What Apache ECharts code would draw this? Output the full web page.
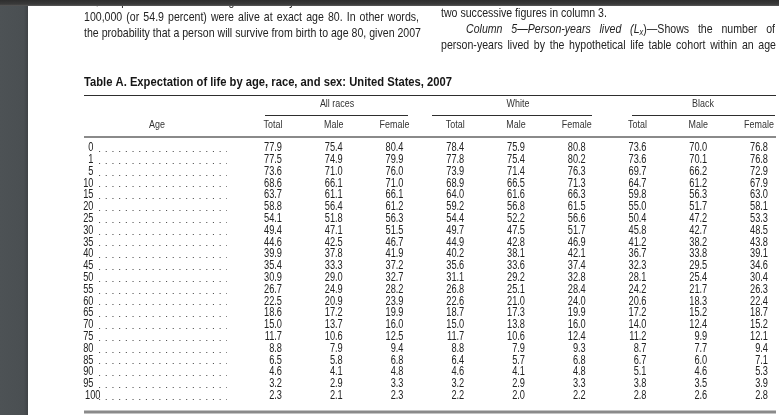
<!DOCTYPE html>
<html>
<head>
<meta charset="utf-8">
<script src="https://cdn.jsdelivr.net/npm/echarts@6/dist/echarts.min.js"></script>
<style>
html,body{margin:0;padding:0;background:#fff;}
#chart{width:779px;height:415px;}
</style>
</head>
<body>
<div id="chart"></div>
<script>
// ---------- data ----------
const ages = ['0','1','5','10','15','20','25','30','35','40','45','50','55','60','65','70','75','80','85','90','95','100'];
const columnLabels = ['Total','Male','Female','Total','Male','Female','Total','Male','Female'];
const groupLabels = ['All races','White','Black'];

const allTotal   = [77.9,77.5,73.6,68.6,63.7,58.8,54.1,49.4,44.6,39.9,35.4,30.9,26.7,22.5,18.6,15.0,11.7,8.8,6.5,4.6,3.2,2.3];
const allMale    = [75.4,74.9,71.0,66.1,61.1,56.4,51.8,47.1,42.5,37.8,33.3,29.0,24.9,20.9,17.2,13.7,10.6,7.9,5.8,4.1,2.9,2.1];
const allFemale  = [80.4,79.9,76.0,71.0,66.1,61.2,56.3,51.5,46.7,41.9,37.2,32.7,28.2,23.9,19.9,16.0,12.5,9.4,6.8,4.8,3.3,2.3];
const whiteTotal = [78.4,77.8,73.9,68.9,64.0,59.2,54.4,49.7,44.9,40.2,35.6,31.1,26.8,22.6,18.7,15.0,11.7,8.8,6.4,4.6,3.2,2.2];
const whiteMale  = [75.9,75.4,71.4,66.5,61.6,56.8,52.2,47.5,42.8,38.1,33.6,29.2,25.1,21.0,17.3,13.8,10.6,7.9,5.7,4.1,2.9,2.0];
const whiteFemale= [80.8,80.2,76.3,71.3,66.3,61.5,56.6,51.7,46.9,42.1,37.4,32.8,28.4,24.0,19.9,16.0,12.4,9.3,6.8,4.8,3.3,2.2];
const blackTotal = [73.6,73.6,69.7,64.7,59.8,55.0,50.4,45.8,41.2,36.7,32.3,28.1,24.2,20.6,17.2,14.0,11.2,8.7,6.7,5.1,3.8,2.8];
const blackMale  = [70.0,70.1,66.2,61.2,56.3,51.7,47.2,42.7,38.2,33.8,29.5,25.4,21.7,18.3,15.2,12.4,9.9,7.7,6.0,4.6,3.5,2.6];
const blackFemale= [76.8,76.8,72.9,67.9,63.0,58.1,53.3,48.5,43.8,39.1,34.6,30.4,26.3,22.4,18.7,15.2,12.1,9.4,7.1,5.3,3.9,2.8];

const columnsData = [allTotal, allMale, allFemale, whiteTotal, whiteMale, whiteFemale, blackTotal, blackMale, blackFemale];

const titleText = 'Table A. Expectation of life by age, race, and sex: United States, 2007';

// ---------- chart ----------
const FF = "'Liberation Sans',Arial,Helvetica,sans-serif";
const SX = 0.77;            // horizontal condensing to mimic Helvetica Condensed
const NUM_SIZE = 12;
const NUM_COLOR = '#222222';
const chart = echarts.init(document.getElementById('chart'), null, {renderer:'canvas'});

const series = columnsData.map((vals, c) => ({
  type: 'custom',
  name: 'c' + c,
  silent: true,
  data: vals.map((v, r) => [c, r, v]),
  encode: {x: 0, y: 1},
  renderItem: function (params, api) {
    const p = api.coord([api.value(0), api.value(1)]);
    return {
      type: 'text',
      x: p[0] + 9,
      y: p[1],
      scaleX: SX,
      style: {
        text: api.value(2).toFixed(1),
        fontFamily: FF, fontSize: NUM_SIZE,
        fill: NUM_COLOR, align: 'right', verticalAlign: 'middle'
      }
    };
  }
}));

chart.setOption({
  animation: false,
  backgroundColor: '#ffffff',
  grid: {left: 273, right: 20, top: 142, height: 22 * 11.8, containLabel: false},
  xAxis: {
    type: 'category',
    position: 'top',
    boundaryGap: false,
    data: columnLabels.map((l, i) => 'c' + i),
    axisLine: {show: false},
    axisTick: {show: false},
    splitLine: {show: false},
    axisLabel: {show: false}
  },
  yAxis: {
    type: 'category',
    inverse: true,
    boundaryGap: true,
    data: ages,
    axisLine: {show: false},
    axisTick: {show: false},
    splitLine: {show: false},
    axisLabel: {show: false}
  },
  series: series
});

// ---------- decorations / text ----------
const ctx = document.createElement('canvas').getContext('2d');
function fontStr(s) {
  return (s.italic ? 'italic ' : '') + (s.bold ? 'bold ' : '') + s.size + 'px ' + FF;
}
function measure(t, s) { ctx.font = fontStr(s); return ctx.measureText(t).width * (s.sx || 1); }

const BODY = {size: 11.9, color: '#232323', sx: 0.89};
const graphics = [];

function textEl(t, x, y, s, align) {
  return {
    type: 'text', x: x, y: y, z: 5, silent: true, scaleX: s.sx || 1,
    style: {
      text: t, fontFamily: FF, fontSize: s.size,
      fontStyle: s.italic ? 'italic' : 'normal',
      fontWeight: s.bold ? 'bold' : 'normal',
      fill: s.color || '#232323', align: align || 'left', verticalAlign: 'middle'
    }
  };
}

// words: array of word; word = string or array of segments {t, italic, sub}
function lineOut(words, x0, x1, y, justify) {
  const norm = words.map(w => typeof w === 'string' ? [{t: w}] : w);
  const segStyle = seg => Object.assign({}, BODY, {italic: !!seg.italic, size: seg.sub ? BODY.size * 0.7 : BODY.size});
  const widths = norm.map(w => w.reduce((a, seg) => a + measure(seg.t, segStyle(seg)), 0));
  const total = widths.reduce((a, b) => a + b, 0);
  const gap = justify && norm.length > 1 ? (x1 - x0 - total) / (norm.length - 1) : measure(' ', BODY);
  let x = x0;
  norm.forEach((w, i) => {
    let xx = x;
    w.forEach(seg => {
      const st = segStyle(seg);
      graphics.push(textEl(seg.t, xx, seg.sub ? y + 3 : y, st));
      xx += measure(seg.t, st);
    });
    x += widths[i] + gap;
  });
}
const split = s => s.split(' ');

// left column paragraph
lineOut(split('54,916 persons out of the original 2007 synthetic life table cohort of'), 84, 420, 2, true);
lineOut(split('100,000 (or 54.9 percent) were alive at exact age 80. In other words,'), 84, 419, 17.5, true);
lineOut(split('the probability that a person will survive from birth to age 80, given 2007'), 84, 421, 33.5, true);
// right column paragraph
lineOut(split('interval x to x+n. It is obtained by taking the difference between'), 441, 775, -2, true);
lineOut(split('two successive figures in column 3.'), 441, 775, 14, false);
lineOut([
  [{t: 'Column', italic: true}],
  [{t: '5—Person-years', italic: true}],
  [{t: 'lived', italic: true}],
  [{t: '(L', italic: true}, {t: 'x', italic: true, sub: true}, {t: ')'}, {t: '—Shows'}],
  'the', 'number', 'of'
], 466, 775, 30, true);
lineOut(split('person-years lived by the hypothetical life table cohort within an age'), 441, 776, 46, true);

// title (condensed bold)
(function () {
  const st = {size: 13.6, bold: true, color: '#161616'};
  const w = measure(titleText, st);
  st.sx = 368 / w;
  graphics.push(textEl(titleText, 84, 82, st));
})();

// rules
function hline(x1, x2, y, w, color) {
  graphics.push({type: 'line', z: 4, silent: true, shape: {x1: x1, y1: y, x2: x2, y2: y}, style: {stroke: color, lineWidth: w}});
}
hline(84, 776, 95.5, 1, '#2e2e2e');
hline(265, 408, 115.5, 1, '#2e2e2e');
hline(432, 592, 115.5, 1, '#2e2e2e');
hline(632, 775, 115.5, 1, '#2e2e2e');
hline(84, 776, 137, 2, '#8a8a8a');
hline(84, 776, 412, 3, '#8a8a8a');

const HDR = {size: 11.6, color: '#333333', sx: SX};
// group headers
const groupCenters = [337, 518, 703];
groupLabels.forEach((g, i) => graphics.push(textEl(g, groupCenters[i], 104, HDR, 'center')));
// column headers, positioned by the category axis
columnLabels.forEach((l, i) => {
  const x = chart.convertToPixel({xAxisIndex: 0}, i);
  graphics.push(textEl(l, x, 125, HDR, 'center'));
});
graphics.push(textEl('Age', 157, 125, HDR, 'center'));

// age labels + dot leaders, positioned by the category axis
const AGE = {size: NUM_SIZE, color: NUM_COLOR, sx: SX};
ages.forEach((a, r) => {
  const yc = chart.convertToPixel({yAxisIndex: 0}, r);
  if (a.length > 2) graphics.push(textEl(a, 85, yc, AGE, 'left'));
  else graphics.push(textEl(a, 93.5, yc, AGE, 'right'));
  const y = Math.round(yc) + 3.5;
  graphics.push({type: 'line', z: 4, silent: true,
    shape: {x1: 99, y1: y, x2: 227, y2: y},
    style: {stroke: '#555555', lineWidth: 1.1, lineDash: [1.1, 5.6]}});
});

// page edges (scan background)
graphics.push({type: 'rect', z: 20, silent: true, shape: {x: 0, y: 0, width: 28, height: 415},
  style: {fill: {type: 'linear', x: 0, y: 0, x2: 1, y2: 0, colorStops: [
    {offset: 0, color: '#4d5255'}, {offset: 0.85, color: '#4a4f52'}, {offset: 1, color: '#3f4346'}]}}});
graphics.push({type: 'rect', z: 21, silent: true, shape: {x: 0, y: 0, width: 779, height: 6},
  style: {fill: {type: 'linear', x: 0, y: 0, x2: 0, y2: 1, colorStops: [
    {offset: 0, color: '#2e2e2e'}, {offset: 0.7, color: '#3a3a3a'}, {offset: 1, color: '#5a5a5a'}]}}});

chart.setOption({graphic: graphics});
</script>
</body>
</html>
